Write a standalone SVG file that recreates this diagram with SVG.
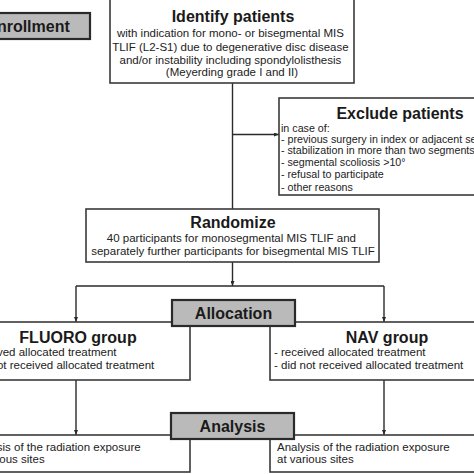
<svg xmlns="http://www.w3.org/2000/svg" width="474" height="474" viewBox="0 0 474 474">
<defs>
<marker id="ah" markerWidth="5" markerHeight="4" refX="5" refY="2" orient="auto" markerUnits="userSpaceOnUse">
<path d="M0,0 L5,2 L0,4 Z" fill="#2a2a2a"/>
</marker>
<style>
.box{fill:#ffffff;stroke:#3a3a3a;stroke-width:1.6}
.gbox{fill:#bababa;stroke:#2a2a2a;stroke-width:2.2}
.ttl{font-family:"Liberation Sans",Arial,sans-serif;font-weight:bold;font-size:16px;fill:#1a1a1a}
.txt{font-family:"Liberation Sans",Arial,sans-serif;font-size:11.5px;fill:#222222}
.sm{font-size:10.7px}
.ln{stroke:#2a2a2a;stroke-width:1.4;fill:none}
</style>
</defs>
<rect width="474" height="474" fill="#ffffff"/>
<g id="connectors">
<line class="ln" x1="232.5" y1="83" x2="232.5" y2="209"/>
<line class="ln" x1="232.5" y1="134.5" x2="279" y2="134.5" marker-end="url(#ah)"/>
<line class="ln" x1="232.5" y1="262" x2="232.5" y2="286" marker-end="url(#ah)"/>
<line class="ln" x1="76" y1="286" x2="384" y2="286"/>
<line class="ln" x1="76" y1="286" x2="76" y2="322" marker-end="url(#ah)"/>
<line class="ln" x1="384" y1="286" x2="384" y2="322" marker-end="url(#ah)"/>
<line class="ln" x1="76" y1="380" x2="76" y2="435" marker-end="url(#ah)"/>
<line class="ln" x1="384" y1="380" x2="384" y2="435" marker-end="url(#ah)"/>
</g>
<g id="enrollment">
<rect class="gbox" x="-34" y="13" width="124" height="26"/>
<text class="ttl" x="28" y="32" text-anchor="middle">Enrollment</text>
</g>
<g id="identify">
<rect class="box" x="110" y="-2" width="244" height="85"/>
<text class="ttl" x="233" y="22" text-anchor="middle">Identify patients</text>
<text class="txt" text-anchor="middle">
<tspan x="232" y="37">with indication for mono- or bisegmental MIS</tspan>
<tspan x="232" y="50.5">TLIF (L2-S1) due to degenerative disc disease</tspan>
<tspan x="232" y="63.5">and/or instability including spondylolisthesis</tspan>
<tspan x="232" y="76">(Meyerding grade I and II)</tspan>
</text>
</g>
<g id="exclude">
<rect class="box" x="279" y="98" width="210" height="97"/>
<text class="ttl" x="400" y="119" text-anchor="middle">Exclude patients</text>
<text class="txt sm">
<tspan x="281" y="132">in case of:</tspan>
<tspan x="281" y="142.5">- previous surgery in index or adjacent segment</tspan>
<tspan x="281" y="153.5">- stabilization in more than two segments</tspan>
<tspan x="281" y="166">- segmental scoliosis &gt;10°</tspan>
<tspan x="281" y="178">- refusal to participate</tspan>
<tspan x="281" y="191">- other reasons</tspan>
</text>
</g>
<g id="randomize">
<rect class="box" x="86" y="209" width="293" height="53"/>
<text class="ttl" x="233" y="228" text-anchor="middle">Randomize</text>
<text class="txt" text-anchor="middle">
<tspan x="233" y="242">40 participants for monosegmental MIS TLIF and</tspan>
<tspan x="233" y="255">separately further participants for bisegmental MIS TLIF</tspan>
</text>
</g>
<g id="fluoro">
<rect class="box" x="-40" y="322" width="230" height="58"/>
<text class="ttl" x="78" y="343" text-anchor="middle">FLUORO group</text>
<text class="txt">
<tspan x="-35" y="356">- received allocated treatment</tspan>
<tspan x="-35" y="369">- did not received allocated treatment</tspan>
</text>
</g>
<g id="nav">
<rect class="box" x="270" y="322" width="230" height="58"/>
<text class="ttl" x="387" y="343" text-anchor="middle">NAV group</text>
<text class="txt">
<tspan x="274" y="356">- received allocated treatment</tspan>
<tspan x="274" y="369">- did not received allocated treatment</tspan>
</text>
</g>
<g id="allocation">
<rect class="gbox" x="172" y="300" width="123" height="26"/>
<text class="ttl" x="233.5" y="319" text-anchor="middle">Allocation</text>
</g>
<g id="analysis-fluoro">
<rect class="box" x="-40" y="435" width="230" height="37"/>
<text class="txt">
<tspan x="-32" y="451">Analysis of the radiation exposure</tspan>
<tspan x="-32" y="463">at various sites</tspan>
</text>
</g>
<g id="analysis-nav">
<rect class="box" x="270" y="435" width="230" height="37"/>
<text class="txt">
<tspan x="277" y="451">Analysis of the radiation exposure</tspan>
<tspan x="277" y="463">at various sites</tspan>
</text>
</g>
<g id="analysis">
<rect class="gbox" x="171" y="413" width="123" height="26"/>
<text class="ttl" x="232.5" y="432" text-anchor="middle">Analysis</text>
</g>
</svg>
